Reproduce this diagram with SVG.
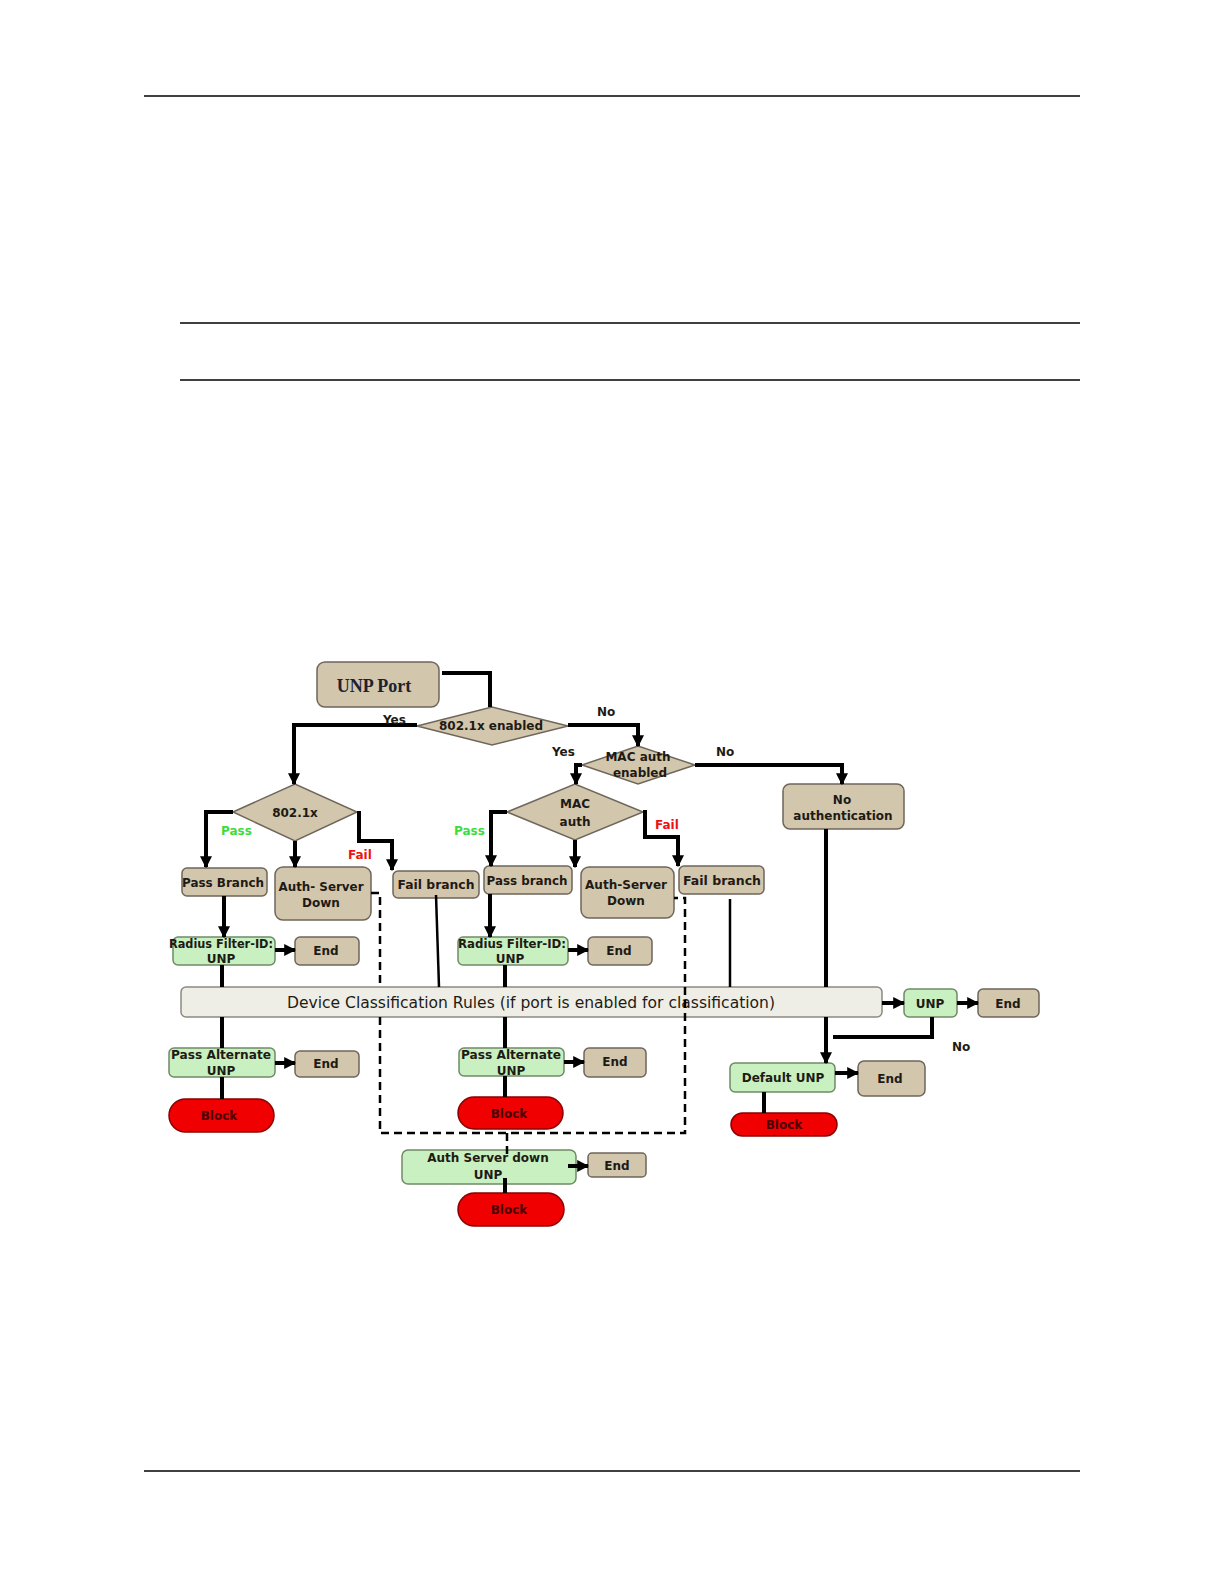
<svg xmlns="http://www.w3.org/2000/svg" width="1224" height="1584" viewBox="0 0 1224 1584">
<defs>
<marker id="arr" viewBox="0 0 10 10" refX="9" refY="5" markerWidth="12" markerHeight="12" markerUnits="userSpaceOnUse" orient="auto">
<path d="M0,0 L10,5 L0,10 z" fill="#000"/>
</marker>
<style>
.tan{fill:#d2c6ad;stroke:#6e665b;stroke-width:1.5}
.grn{fill:#c9f0c0;stroke:#6f8a66;stroke-width:1.5}
.red{fill:#f00000;stroke:#8a0000;stroke-width:1.5}
.dcr{fill:#efeee6;stroke:#8c8a80;stroke-width:1.5}
.t{font-family:"DejaVu Sans",sans-serif;font-weight:bold;font-size:12px;fill:#1e1a14;text-anchor:middle}
.tb{font-family:"DejaVu Sans",sans-serif;font-weight:bold;font-size:12px;fill:#4a0000;text-anchor:middle}
.lbl{font-family:"DejaVu Sans",sans-serif;font-weight:bold;font-size:12px;fill:#1e1a14}
.pass{font-family:"DejaVu Sans",sans-serif;font-weight:bold;font-size:12px;fill:#3ddc3d}
.fail{font-family:"DejaVu Sans",sans-serif;font-weight:bold;font-size:12px;fill:#ee1111}
.c{fill:none;stroke:#000;stroke-width:4}
.ca{fill:none;stroke:#000;stroke-width:4;marker-end:url(#arr)}
.thin{fill:none;stroke:#000;stroke-width:2.5}
.dash{fill:none;stroke:#000;stroke-width:2.5;stroke-dasharray:8,5}
.page{stroke:#000;stroke-width:1.5}
</style>
</defs>
<rect width="1224" height="1584" fill="#fff"/>
<g id="page-lines">
<line class="page" x1="144" y1="96" x2="1080" y2="96"/>
<line class="page" x1="180" y1="323" x2="1080" y2="323"/>
<line class="page" x1="180" y1="380" x2="1080" y2="380"/>
<line class="page" x1="144" y1="1471" x2="1080" y2="1471"/>
</g>

<g id="nodes">
<g id="unp-port"><rect class="tan" x="317" y="662" width="122" height="45" rx="8"/><text x="374" y="692" font-family="'Liberation Serif',serif" font-weight="bold" font-size="18" fill="#1c2230" text-anchor="middle">UNP Port</text></g>
<g id="d-8021x-enabled"><polygon class="tan" points="417,726 492,707 568,726 492,745"/><text class="t" x="491" y="730">802.1x enabled</text></g>
<g id="d-mac-enabled"><polygon class="tan" points="582,765 638,746 695,765 638,784"/><text class="t" x="638" y="761">MAC auth</text><text class="t" x="640" y="777">enabled</text></g>
<g id="d-8021x"><polygon class="tan" points="233,812 295,784 357,812 295,841"/><text class="t" x="295" y="817">802.1x</text></g>
<g id="d-mac"><polygon class="tan" points="507,812 575,784 643,812 575,840"/><text class="t" x="575" y="808">MAC</text><text class="t" x="575" y="826">auth</text></g>
<g id="no-auth"><rect class="tan" x="783" y="784" width="121" height="45" rx="7"/><text class="t" x="842" y="804">No</text><text class="t" x="843" y="820">authentication</text></g>
<g id="pass-branch-1"><rect class="tan" x="182" y="868" width="85" height="28" rx="5"/><text class="t" x="223" y="887" textLength="82" lengthAdjust="spacingAndGlyphs">Pass Branch</text></g>
<g id="auth-down-1"><rect class="tan" x="275" y="867" width="96" height="53" rx="8"/><text class="t" x="321" y="891" textLength="85" lengthAdjust="spacingAndGlyphs">Auth- Server</text><text class="t" x="321" y="907">Down</text></g>
<g id="fail-branch-1"><rect class="tan" x="393" y="871" width="86" height="27" rx="5"/><text class="t" x="436" y="889" textLength="77" lengthAdjust="spacingAndGlyphs">Fail branch</text></g>
<g id="pass-branch-2"><rect class="tan" x="484" y="866" width="88" height="28" rx="5"/><text class="t" x="527" y="885" textLength="81" lengthAdjust="spacingAndGlyphs">Pass branch</text></g>
<g id="auth-down-2"><rect class="tan" x="581" y="867" width="93" height="51" rx="8"/><text class="t" x="626" y="889" textLength="82" lengthAdjust="spacingAndGlyphs">Auth-Server</text><text class="t" x="626" y="905">Down</text></g>
<g id="fail-branch-2"><rect class="tan" x="679" y="866" width="85" height="28" rx="5"/><text class="t" x="722" y="885" textLength="78" lengthAdjust="spacingAndGlyphs">Fail branch</text></g>
<g id="radius-1"><rect class="grn" x="173" y="937" width="102" height="28" rx="5"/><text class="t" x="221" y="948" textLength="104" lengthAdjust="spacingAndGlyphs">Radius Filter-ID:</text><text class="t" x="221" y="963">UNP</text></g>
<g id="end-1"><rect class="tan" x="295" y="937" width="64" height="28" rx="5"/><text class="t" x="326" y="955">End</text></g>
<g id="radius-2"><rect class="grn" x="458" y="937" width="110" height="28" rx="5"/><text class="t" x="512" y="948" textLength="108" lengthAdjust="spacingAndGlyphs">Radius Filter-ID:</text><text class="t" x="510" y="963">UNP</text></g>
<g id="end-2"><rect class="tan" x="588" y="937" width="64" height="28" rx="5"/><text class="t" x="619" y="955">End</text></g>
<g id="dcr"><rect class="dcr" x="181" y="987" width="701" height="30" rx="5"/><text x="531" y="1008" font-family="'DejaVu Sans',sans-serif" font-size="15" fill="#1e1a14" text-anchor="middle" textLength="488" lengthAdjust="spacingAndGlyphs">Device Classification Rules (if port is enabled for classification)</text></g>
<g id="unp"><rect class="grn" x="904" y="989" width="53" height="28" rx="5"/><text class="t" x="930" y="1008">UNP</text></g>
<g id="end-3"><rect class="tan" x="978" y="989" width="61" height="28" rx="5"/><text class="t" x="1008" y="1008">End</text></g>
<g id="pass-alt-1"><rect class="grn" x="169" y="1048" width="106" height="29" rx="5"/><text class="t" x="221" y="1059" textLength="100" lengthAdjust="spacingAndGlyphs">Pass Alternate</text><text class="t" x="221" y="1075">UNP</text></g>
<g id="end-4"><rect class="tan" x="295" y="1051" width="64" height="26" rx="5"/><text class="t" x="326" y="1068">End</text></g>
<g id="block-1"><rect class="red" x="169" y="1099" width="105" height="33" rx="16.5"/><text class="tb" x="219" y="1120">Block</text></g>
<g id="pass-alt-2"><rect class="grn" x="459" y="1048" width="105" height="28" rx="5"/><text class="t" x="511" y="1059" textLength="100" lengthAdjust="spacingAndGlyphs">Pass Alternate</text><text class="t" x="511" y="1075">UNP</text></g>
<g id="end-5"><rect class="tan" x="584" y="1048" width="62" height="29" rx="5"/><text class="t" x="615" y="1066">End</text></g>
<g id="block-2"><rect class="red" x="458" y="1097" width="105" height="32" rx="16"/><text class="tb" x="509" y="1118">Block</text></g>
<g id="default-unp"><rect class="grn" x="730" y="1063" width="105" height="29" rx="5"/><text class="t" x="783" y="1082">Default UNP</text></g>
<g id="end-6"><rect class="tan" x="858" y="1061" width="67" height="35" rx="6"/><text class="t" x="890" y="1083">End</text></g>
<g id="block-3"><rect class="red" x="731" y="1113" width="106" height="23" rx="11.5"/><text class="tb" x="784" y="1129">Block</text></g>
<g id="auth-down-unp"><rect class="grn" x="402" y="1150" width="174" height="34" rx="6"/><text class="t" x="488" y="1162">Auth Server down</text><text class="t" x="488" y="1179">UNP</text></g>
<g id="end-7"><rect class="tan" x="588" y="1153" width="58" height="24" rx="4"/><text class="t" x="617" y="1170">End</text></g>
<g id="block-4"><rect class="red" x="458" y="1193" width="106" height="33" rx="16.5"/><text class="tb" x="509" y="1214">Block</text></g>
</g>

<g id="connectors">
<path class="c" d="M442,673 H490 V707" stroke-width="5"/>
<path class="ca" d="M417,725 H294 V784"/>
<path class="ca" d="M568,725 H638 V746"/>
<path class="ca" d="M582,765 H576 V784"/>
<path class="ca" d="M695,765 H842 V784"/>
<path class="ca" d="M233,812 H206 V867"/>
<path class="ca" d="M295,841 V867"/>
<path class="ca" d="M357,813 H359 V841 H392 V870"/>
<path class="ca" d="M507,812 H491 V866"/>
<path class="ca" d="M575,840 V867"/>
<path class="ca" d="M643,812 H645 V837 H678 V866"/>
<path class="ca" d="M224,896 V937"/>
<path class="ca" d="M275,950 H295"/>
<path class="c" d="M222,965 V987"/>
<path class="c" d="M222,1017 V1048"/>
<path class="ca" d="M275,1063 H295"/>
<path class="c" d="M222,1077 V1099"/>
<path class="dash" d="M371,893 H380 V987"/>
<path class="dash" d="M380,1017 V1133 H685 V898 H674"/>
<path class="dash" d="M507,1133 V1158"/>
<path class="thin" d="M436,895 L439,987"/>
<path class="ca" d="M490,894 V937"/>
<path class="ca" d="M568,950 H588"/>
<path class="c" d="M505,965 V987"/>
<path class="c" d="M505,1017 V1048"/>
<path class="ca" d="M564,1062 H584"/>
<path class="c" d="M505,1076 V1097"/>
<path class="thin" d="M730,899 V987"/>
<path class="c" d="M826,829 V987"/>
<path class="ca" d="M826,1017 V1063"/>
<path class="ca" d="M882,1003 H904"/>
<path class="ca" d="M957,1003 H978"/>
<path class="c" d="M932,1017 V1037 H833" stroke-width="3.5"/>
<path class="ca" d="M835,1073 H858"/>
<path class="c" d="M764,1092 V1113"/>
<path class="ca" d="M568,1166 H588"/>
<path class="c" d="M505,1178 V1193"/>
</g>

<g id="labels">
<text class="lbl" x="383" y="724">Yes</text>
<text class="lbl" x="597" y="716">No</text>
<text class="lbl" x="552" y="756">Yes</text>
<text class="lbl" x="716" y="756">No</text>
<text class="pass" x="221" y="835">Pass</text>
<text class="fail" x="348" y="859">Fail</text>
<text class="pass" x="454" y="835">Pass</text>
<text class="fail" x="655" y="829">Fail</text>
<text class="lbl" x="952" y="1051">No</text>
</g>
</svg>
